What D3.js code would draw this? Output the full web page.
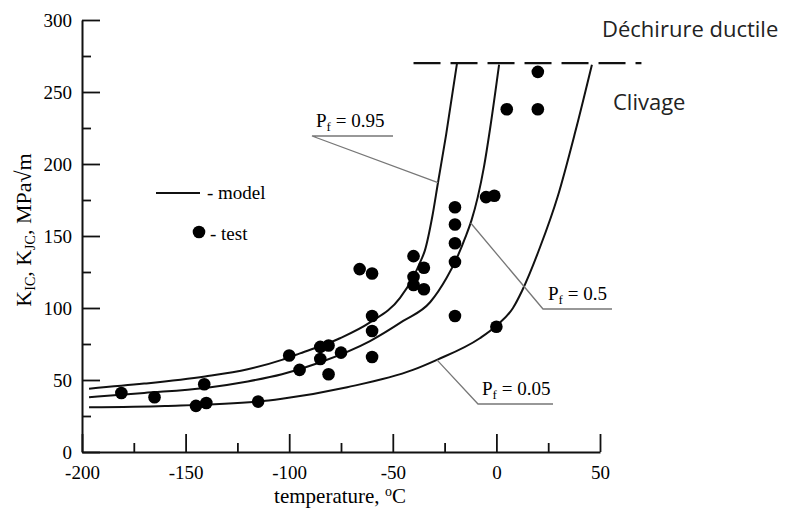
<!DOCTYPE html>
<html lang='en'>
<head>
	<meta charset='UTF-8'/>
	<title>KIC master curve</title>
	<script src='https://cdnjs.cloudflare.com/ajax/libs/d3/7.8.5/d3.min.js'></script>
	<style>
		body {margin: 0; background: #fff;}
		svg {display: block;}
	</style>
</head>
<body>
	<div class='graph'></div>
	<script>
		// test points
		const testTemp = [-181, -165, -141, -145, -140, -115, -100, -95, -85, -81, -85, -75, -81,
			-66, -60, -60, -60, -60, -40, -35, -40, -40, -35,
			-20, -20, -20, -20, -5, -1, -20, 0, 20, 5, 20];
		const testK = [41, 38, 47, 32, 34, 35, 67, 57, 73, 74, 64.6, 69, 54,
			127, 124, 94.4, 84, 66, 136, 128, 121.5, 116, 113,
			170, 158, 145, 132, 177, 178, 94.4, 87, 264, 238, 238];

		// model curves (Pf = 0.95, 0.5, 0.05)
		const p95Temp = [-196.6, -170, -140.6, -120, -103.5, -94.8, -75.5, -61, -46.5, -40.3, -36.4, -34.5, -31, -28.2, -24.3, -19];
		const p95K = [44, 47.5, 52.5, 57.5, 64, 68.5, 79, 90, 107, 121, 133, 140, 163, 187, 220, 270];
		const p50Temp = [-196.6, -170, -140.6, -120, -103.5, -85.6, -61, -45, -32, -24, -19, -15, -12, -9, -6, -3, 1.3];
		const p50K = [38, 41, 44.5, 49, 54, 62, 77, 91, 104, 121, 135, 149, 161, 177, 198, 225, 269];
		const p05Temp = [-196.6, -160, -115.5, -103.5, -72, -40.3, -28.7, -8, 0.3, 8, 12.4, 21, 29.7, 38, 46.1];
		const p05K = [31, 32, 35, 37, 45, 57, 64, 79, 88, 100, 112, 142, 178, 222, 269];

		// ductile tearing plateau
		const plateauK = 270;
		const plateauTemp = [-40, 70];

		const xTicks = [-200, -150, -100, -50, 0, 50];
		const xMinor = [-175, -125, -75, -25, 25];
		const yTicks = [0, 50, 100, 150, 200, 250, 300];
		const yMinor = [25, 75, 125, 175, 225, 275];

		const curveLabels = [
			{p: '0.95', T: -28.2, K: 187, tx: 316, ty: 127, x0: 312, x1: 393},
			{p: '0.5', T: -12.4, K: 159, tx: 548, ty: 300, x0: 543, x1: 612},
			{p: '0.05', T: -28.7, K: 64, tx: 482, ty: 395, x0: 478, x1: 553}
		];

		const SERIF = "'Liberation Serif', 'Times New Roman', serif";
		const SANS = "'Open Sans', 'Lato', sans-serif";

		const width = 812, height = 511;
		const margin = {top: 20, right: 212, bottom: 59, left: 82};

		const svg = d3.select('.graph').append('svg')
			.attr('width', width)
			.attr('height', height);

		const X_SCALE = d3.scaleLinear().domain([-200, 50]).range([margin.left, width - margin.right]);
		const Y_SCALE = d3.scaleLinear().domain([0, 300]).range([height - margin.bottom, margin.top]);

		// axes: major ticks with labels, minor ticks without
		const xAxis = svg.append('g')
			.attr('transform', 'translate(0,' + (height - margin.bottom) + ')')
			.call(d3.axisBottom(X_SCALE).tickValues(xTicks).tickSizeInner(-18).tickSizeOuter(0).tickPadding(27).tickFormat(d => String(d)));
		svg.append('g')
			.attr('transform', 'translate(0,' + (height - margin.bottom) + ')')
			.call(d3.axisBottom(X_SCALE).tickValues(xMinor).tickSizeInner(-9).tickSizeOuter(0).tickFormat(''))
			.select('.domain').remove();
		const yAxis = svg.append('g')
			.attr('transform', 'translate(' + margin.left + ',0)')
			.call(d3.axisLeft(Y_SCALE).tickValues(yTicks).tickSizeInner(-18).tickSizeOuter(0).tickPadding(10).tickFormat(d => String(d)));
		svg.append('g')
			.attr('transform', 'translate(' + margin.left + ',0)')
			.call(d3.axisLeft(Y_SCALE).tickValues(yMinor).tickSizeInner(-9).tickSizeOuter(0).tickFormat(''))
			.select('.domain').remove();

		svg.selectAll('.domain').attr('stroke', '#111').attr('stroke-width', 2);
		svg.selectAll('.tick line').attr('stroke', '#111').attr('stroke-width', 1.8);
		svg.selectAll('.tick text')
			.attr('fill', '#000')
			.style('font-family', SERIF)
			.style('font-size', '19px');
		xAxis.selectAll('.tick text').attr('dy', '0');

		// axis titles
		svg.append('text')
			.attr('x', 340)
			.attr('y', 503)
			.attr('text-anchor', 'middle')
			.style('font-family', SERIF)
			.style('font-size', '21px')
			.attr('fill', '#000')
			.html("temperature, <tspan dy='-7' font-size='14px'>o</tspan><tspan dy='7'>C</tspan>");
		svg.append('text')
			.attr('transform', 'translate(31,230) rotate(-90)')
			.attr('text-anchor', 'middle')
			.style('font-family', SERIF)
			.style('font-size', '22px')
			.attr('fill', '#000')
			.html("K<tspan dy='4' font-size='14px'>IC</tspan><tspan dy='-4'>, K</tspan><tspan dy='4' font-size='14px'>JC</tspan><tspan dy='-4'>, MPa√m</tspan>");

		// plateau line
		svg.append('line')
			.attr('x1', X_SCALE(plateauTemp[0]))
			.attr('x2', X_SCALE(plateauTemp[1]))
			.attr('y1', Y_SCALE(plateauK))
			.attr('y2', Y_SCALE(plateauK))
			.attr('stroke', '#111')
			.attr('stroke-width', 2.2)
			.attr('stroke-dasharray', '27,10');

		// model curves
		const line = d3.line()
			.x(d => X_SCALE(d[0]))
			.y(d => Y_SCALE(d[1]))
			.curve(d3.curveMonotoneX);
		[[p95Temp, p95K], [p50Temp, p50K], [p05Temp, p05K]].forEach(c => {
			svg.append('path')
				.datum(c[0].map((t, i) => [t, c[1][i]]))
				.attr('d', line)
				.attr('fill', 'none')
				.attr('stroke', '#111')
				.attr('stroke-width', 2);
		});

		// test points
		svg.selectAll('circle.dot')
			.data(testTemp.map((t, i) => [t, testK[i]]))
			.enter()
			.append('circle')
			.attr('class', 'dot')
			.attr('cx', d => X_SCALE(d[0]))
			.attr('cy', d => Y_SCALE(d[1]))
			.attr('r', 6.3)
			.attr('fill', '#000');

		// Pf labels with leader lines
		curveLabels.forEach(l => {
			svg.append('polyline')
				.attr('points', [[l.x1, l.ty + 9], [l.x0, l.ty + 9], [X_SCALE(l.T), Y_SCALE(l.K)]].join(' '))
				.attr('fill', 'none')
				.attr('stroke', '#777')
				.attr('stroke-width', 1.3);
			svg.append('text')
				.attr('x', l.tx)
				.attr('y', l.ty)
				.style('font-family', SERIF)
				.style('font-size', '19px')
				.attr('fill', '#000')
				.html("P<tspan dy='4' font-size='13px'>f</tspan><tspan dy='-4'> = " + l.p + "</tspan>");
		});

		// legend
		svg.append('line')
			.attr('x1', 156).attr('x2', 200)
			.attr('y1', 193).attr('y2', 193)
			.attr('stroke', '#111').attr('stroke-width', 2);
		svg.append('text')
			.attr('x', 207).attr('y', 199)
			.style('font-family', SERIF)
			.style('font-size', '19px')
			.attr('fill', '#000')
			.text('- model');
		svg.append('circle')
			.attr('cx', 199).attr('cy', 232).attr('r', 6.3).attr('fill', '#000');
		svg.append('text')
			.attr('x', 210).attr('y', 240)
			.style('font-family', SERIF)
			.style('font-size', '19px')
			.attr('fill', '#000')
			.text('- test');

		// regime annotations
		svg.append('text')
			.attr('x', 602).attr('y', 37)
			.style('font-family', SANS)
			.style('font-size', '22px')
			.attr('fill', '#222')
			.text('Déchirure ductile');
		svg.append('text')
			.attr('x', 613).attr('y', 110)
			.style('font-family', SANS)
			.style('font-size', '22px')
			.attr('fill', '#222')
			.text('Clivage');
	</script>
</body>
</html>
